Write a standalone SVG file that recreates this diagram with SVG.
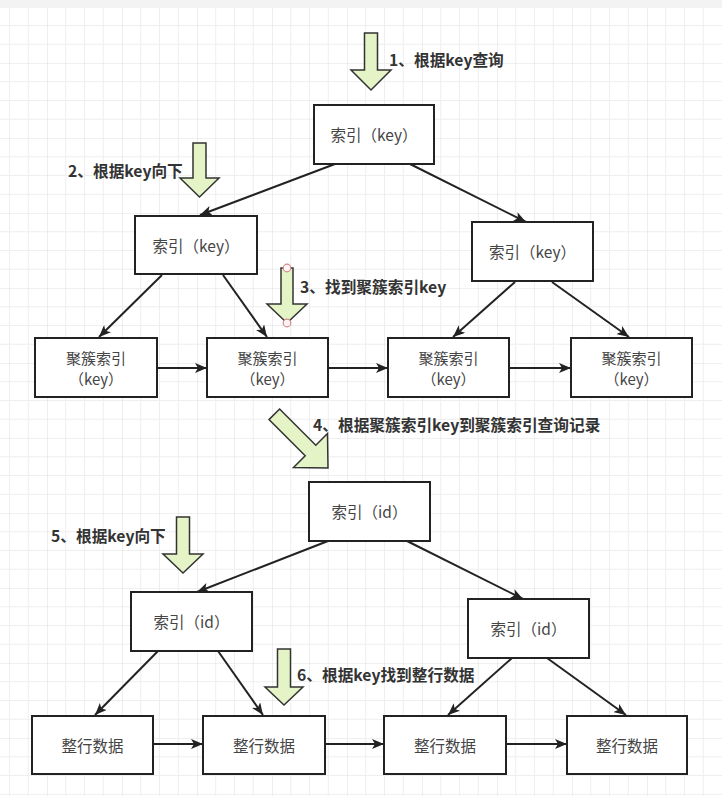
<svg xmlns="http://www.w3.org/2000/svg" width="722" height="796" viewBox="0 0 722 796">
<defs>
<pattern id="grid" x="-28" y="-12" width="75" height="75" patternUnits="userSpaceOnUse">
<path d="M18.75 0V75M37.5 0V75M56.25 0V75M0 18.75H75M0 37.5H75M0 56.25H75" stroke="#eeeeee" stroke-width="1" fill="none"/>
<path d="M0 0V75M0 0H75" stroke="#e2e2e2" stroke-width="1.2" fill="none"/>
</pattern>
<marker id="arr" viewBox="0 0 12 10" refX="12" refY="5" markerWidth="12" markerHeight="10" markerUnits="userSpaceOnUse" orient="auto">
<path d="M0,0 L12,5 L0,10 L3,5 Z" fill="#222"/>
</marker>
<style>
.box{fill:#fff;stroke:#222;stroke-width:2}
.nt{font-family:"Noto Sans CJK SC","Noto Sans",sans-serif;font-size:15.5px;fill:#454545;text-anchor:middle;dominant-baseline:central}
.n2{font-size:15px}
.lb{font-family:"Noto Sans CJK SC","Noto Sans",sans-serif;font-size:15.7px;font-weight:bold;fill:#333;dominant-baseline:central}
.ed{stroke:#222;stroke-width:2;fill:none;marker-end:url(#arr)}
.ga{fill:#e4f4c6;stroke:#333;stroke-width:1.5;stroke-linejoin:miter}
.hd{fill:#fff3f3;stroke:#d48a8f;stroke-width:1.2}
</style>
</defs>
<rect width="722" height="796" fill="#fff"/>
<rect width="722" height="796" fill="url(#grid)"/>
<rect width="722" height="8" fill="#f3f3f3"/>

<g id="connectors">
<path class="ed" d="M335,164 L200,215"/>
<path class="ed" d="M410,164 L526,222"/>
<path class="ed" d="M162,275 L99,337"/>
<path class="ed" d="M223,275 L267,337"/>
<path class="ed" d="M515,282 L453,337"/>
<path class="ed" d="M552,282 L629,337"/>
<path class="ed" d="M157,368 L207,368"/>
<path class="ed" d="M328,368 L388,368"/>
<path class="ed" d="M509,368 L571,368"/>
<path class="ed" d="M328,541 L197,592"/>
<path class="ed" d="M407,541 L523,599"/>
<path class="ed" d="M158,651 L95,715"/>
<path class="ed" d="M218,651 L263,715"/>
<path class="ed" d="M512,658 L448,715"/>
<path class="ed" d="M547,658 L626,715"/>
<path class="ed" d="M153,744 L203,744"/>
<path class="ed" d="M325,744 L384,744"/>
<path class="ed" d="M506,744 L567,744"/>
</g>

<g id="n1"><rect class="box" x="314" y="105" width="120" height="59"/><text class="nt" x="374" y="134">索引（key）</text></g>
<g id="n2"><rect class="box" x="135" y="216" width="122" height="58"/><text class="nt" x="196" y="245">索引（key）</text></g>
<g id="n3"><rect class="box" x="472" y="222" width="121" height="59"/><text class="nt" x="532.5" y="251">索引（key）</text></g>

<g id="l1"><rect class="box" x="35" y="338" width="122" height="59"/><text class="nt n2" x="96" y="357.5">聚簇索引<tspan x="96" dy="20">（key）</tspan></text></g>
<g id="l2"><rect class="box" x="207" y="338" width="121" height="59"/><text class="nt n2" x="267.5" y="357.5">聚簇索引<tspan x="267.5" dy="20">（key）</tspan></text></g>
<g id="l3"><rect class="box" x="388" y="338" width="121" height="59"/><text class="nt n2" x="448.5" y="357.5">聚簇索引<tspan x="448.5" dy="20">（key）</tspan></text></g>
<g id="l4"><rect class="box" x="571" y="338" width="121" height="59"/><text class="nt n2" x="631.5" y="357.5">聚簇索引<tspan x="631.5" dy="20">（key）</tspan></text></g>

<g id="m1"><rect class="box" x="309" y="482" width="121" height="59"/><text class="nt" x="369.5" y="511">索引（id）</text></g>
<g id="m2"><rect class="box" x="131" y="592" width="121" height="59"/><text class="nt" x="191.5" y="621">索引（id）</text></g>
<g id="m3"><rect class="box" x="468" y="599" width="121" height="59"/><text class="nt" x="528.5" y="628">索引（id）</text></g>

<g id="r1"><rect class="box" x="32" y="716" width="121" height="58"/><text class="nt" x="92.5" y="745">整行数据</text></g>
<g id="r2"><rect class="box" x="203" y="716" width="122" height="58"/><text class="nt" x="264" y="745">整行数据</text></g>
<g id="r3"><rect class="box" x="384" y="716" width="122" height="58"/><text class="nt" x="445" y="745">整行数据</text></g>
<g id="r4"><rect class="box" x="567" y="716" width="120" height="58"/><text class="nt" x="627" y="745">整行数据</text></g>

<g id="step1"><polygon class="ga" points="364.5,33 377.5,33 377.5,70 391,70 371,90 351,70 364.5,70"/><text class="lb" x="389" y="59">1、根据key查询</text></g>
<g id="step2"><polygon class="ga" points="193,143 206,143 206,178 219,178 199.5,197 180,178 193,178"/><text class="lb" x="68" y="170">2、根据key向下</text></g>
<g id="step3"><polygon class="ga" points="281,268 293,268 293,304 307,304 287,323 267,304 281,304"/><circle class="hd" cx="287" cy="268" r="3.8"/><circle class="hd" cx="287" cy="323" r="3.8"/><text class="lb" x="300" y="286">3、找到聚簇索引key</text></g>
<g id="step4"><polygon class="ga" points="279.6,409 315.8,445.2 327.5,433.5 328,468 293.5,467.5 305.2,455.8 269,419.6"/><text class="lb" x="313" y="424">4、根据聚簇索引key到聚簇索引查询记录</text></g>
<g id="step5"><polygon class="ga" points="176.5,517 189.5,517 189.5,554 203,554 183,573 163,554 176.5,554"/><text class="lb" x="51" y="535">5、根据key向下</text></g>
<g id="step6"><polygon class="ga" points="277.5,649 290.5,649 290.5,687 303,687 284,705 265,687 277.5,687"/><text class="lb" x="297" y="674">6、根据key找到整行数据</text></g>
</svg>
